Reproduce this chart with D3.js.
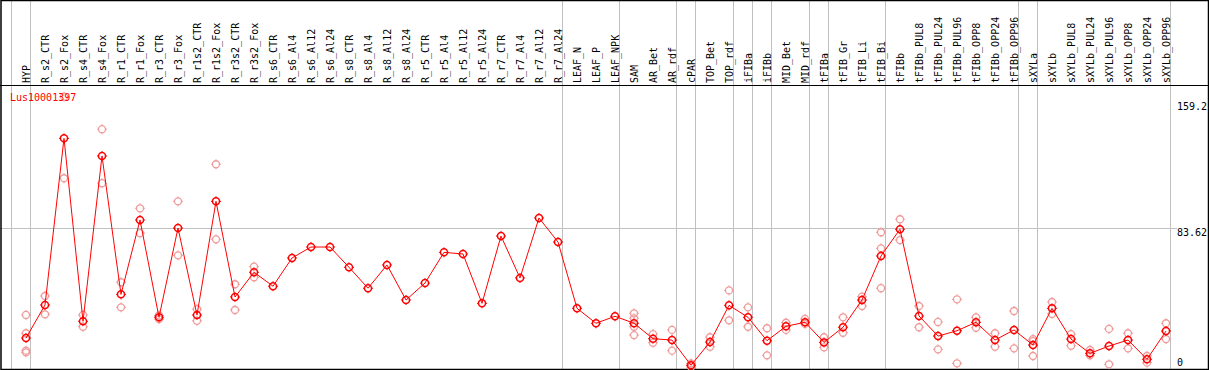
<!DOCTYPE html>
<html>
<head>
<meta charset="utf-8">
<script src="https://cdn.jsdelivr.net/npm/d3@7"></script>
<style>
  body { margin: 0; background: #fff; }
  svg { display: block; }
  text { font-family: "DejaVu Sans Mono", monospace; font-size: 10px; }
</style>
</head>
<body>
<div id="chart"></div>
<script>

var geneName = "Lus10001397";

var samples = ["HYP","R_s2_CTR","R_s2_Fox","R_s4_CTR","R_s4_Fox","R_r1_CTR","R_r1_Fox","R_r3_CTR","R_r3_Fox",
  "R_r1s2_CTR","R_r1s2_Fox","R_r3s2_CTR","R_r3s2_Fox","R_s6_CTR","R_s6_Al4","R_s6_Al12","R_s6_Al24",
  "R_s8_CTR","R_s8_Al4","R_s8_Al12","R_s8_Al24","R_r5_CTR","R_r5_Al4","R_r5_Al12","R_r5_Al24",
  "R_r7_CTR","R_r7_Al4","R_r7_Al12","R_r7_Al24","LEAF_N","LEAF_P","LEAF_NPK","SAM","AR_Bet","AR_rdf",
  "cPAR","TOP_Bet","TOP_rdf","iFIBa","iFIBb","MID_Bet","MID_rdf","tFIBa","tFIB_Gr","tFIB_Li","tFIB_Bi",
  "tFIBb","tFIBb_PUL8","tFIBb_PUL24","tFIBb_PUL96","tFIBb_OPP8","tFIBb_OPP24","tFIBb_OPP96",
  "sXYLa","sXYLb","sXYLb_PUL8","sXYLb_PUL24","sXYLb_PUL96","sXYLb_OPP8","sXYLb_OPP24","sXYLb_OPP96"];

// mean expression per sample
var means = [17.6,37.5,137.8,27.7,127.2,43.9,88.7,30.1,83.8,
  31.5,99.9,42.3,57.2,48.8,65.8,72.4,72.4,
  60.2,47.6,61.6,40.5,50.7,69.2,68.2,38.5,
  79.0,53.8,89.9,75.4,35.5,26.5,30.7,26.5,17.2,16.4,
  1.2,15.2,37.3,30.1,16.0,24.7,27.1,15.0,24.1,40.5,67.0,
  83.1,30.9,18.8,22.0,27.1,16.4,22.5,
  13.4,35.5,17.0,8.4,12.8,16.4,4.8,21.8];

// single replicates
var replicates = [[31.5,20.5,10.0,9.0],[42.9,31.9],[162.9,113.8],[31.5,24.4],[143.3,110.8],[51.2,36.1],[95.7,80.7],[31.2,29.0],[99.9,67.4],
  [35.0,28.0],[122.2,77.0],[50.0,34.5],[60.6,54.2],[],[],[],[],
  [],[],[],[],[],[],[],[],
  [],[],[],[],[],[],[],[32.5,29.5,24.4,19.4],[20.0,14.8],[22.5,10.0],
  [2.4,0.2],[18.1,12.4],[46.3,28.3],[36.1,24.4],[23.5,7.2],[26.8,22.5],[29.1,26.1],[18.1,12.0],[30.1,20.8],[42.5,36.9],[81.3,71.6,47.6],
  [89.1,76.6],[36.9,24.1],[27.3,10.8],[40.9,2.4],[30.1,23.8],[20.5,12.4],[33.9,11.4],
  [16.9,15.8,6.8],[39.3,32.1],[20.0,13.0],[10.4,7.2],[23.1,1.8],[20.5,11.4],[6.8,2.8],[26.5,17.0]];

var groupStarts = ["HYP","R_s2_CTR","LEAF_N","SAM","cPAR","TOP_Bet","iFIBa","iFIBb","MID_Bet","tFIBa","tFIB_Gr","tFIBb","sXYLa","sXYLb"];

var yTickValues = [159.2, 83.62, 0];
var yTickLabels = ["159.2", "83.62", "0"];

var width = 1209;
var height = 370;
var headerBottom = 85.5;

var svg = d3.select("#chart")
            .append("svg")
            .attr("width", width)
            .attr("height", height);

svg.append("rect")
   .attr("width", width)
   .attr("height", height)
   .attr("fill", "#fff");

var xScale = d3.scaleBand()
      .domain(samples)
      .range([11, 11 + 19 * samples.length])
      .paddingInner(0)
      .paddingOuter(0);

var yScale = d3.scaleLinear()
      .domain([0, 159.2])
      .range([367.3, 102.8]);

function px(name){
  return xScale(name) + 15;
}

// vertical group separators
var sepX = groupStarts.map(function(g){ return xScale(g); });
sepX.push(xScale.range()[1]);

svg.selectAll(".sep")
   .data(sepX)
   .enter()
   .append("line")
   .attr("class", "sep")
   .attr("x1", function(d){ return Math.round(d) + 0.5; })
   .attr("x2", function(d){ return Math.round(d) + 0.5; })
   .attr("y1", 0)
   .attr("y2", height)
   .attr("stroke", "#c0c0c0")
   .attr("stroke-width", 1);

// mid tick grid line
svg.append("line")
   .attr("x1", 0)
   .attr("x2", 1177)
   .attr("y1", Math.round(yScale(83.62)) + 0.5)
   .attr("y2", Math.round(yScale(83.62)) + 0.5)
   .attr("stroke", "#c0c0c0")
   .attr("stroke-width", 1);

// header / frame
svg.append("line")
   .attr("x1", 0)
   .attr("x2", width)
   .attr("y1", headerBottom)
   .attr("y2", headerBottom)
   .attr("stroke", "#000")
   .attr("stroke-width", 1);

svg.append("rect")
   .attr("x", 1)
   .attr("y", 0.5)
   .attr("width", width - 1.5)
   .attr("height", height - 1)
   .attr("fill", "none")
   .attr("stroke", "#000")
   .attr("stroke-width", 1.5);

// sample labels
svg.selectAll(".sampleLabel")
   .data(samples)
   .enter()
   .append("text")
   .attr("class", "sampleLabel")
   .attr("transform", function(d){
     return "translate(" + (px(d) + 3.5) + ",83) rotate(-90)";
   })
   .attr("text-anchor", "start")
   .attr("fill", "#000")
   .text(function(d){ return d; });

// y labels on the right
svg.selectAll(".yLabel")
   .data(yTickValues)
   .enter()
   .append("text")
   .attr("class", "yLabel")
   .attr("x", 1177)
   .attr("y", function(d){
     return Math.min(yScale(d) + 7.2, 365.7);
   })
   .attr("fill", "#000")
   .text(function(d,i){ return yTickLabels[i]; });

// replicate points
var repPoints = [];
replicates.forEach(function(reps, i){
  reps.forEach(function(v){
    repPoints.push({name: samples[i], value: v});
  });
});

function ticks(g, color){
  g.each(function(d){
    var sel = d3.select(this);
    [[0,-1],[0,1],[-1,0],[1,0]].forEach(function(o){
      sel.append("line")
         .attr("x1", o[0] * 3.5)
         .attr("y1", o[1] * 3.5)
         .attr("x2", o[0] * 5)
         .attr("y2", o[1] * 5)
         .attr("stroke", color)
         .attr("stroke-width", 1);
    });
  });
}

var repG = svg.selectAll(".rep")
   .data(repPoints)
   .enter()
   .append("g")
   .attr("class", "rep")
   .attr("transform", function(d){
     return "translate(" + px(d.name) + "," + yScale(d.value) + ")";
   });

repG.append("circle")
   .attr("r", 3.5)
   .attr("fill", "none")
   .attr("stroke", "#f09a9a")
   .attr("stroke-width", 1.3);
ticks(repG, "#f09a9a");

// mean line
var line = d3.line()
   .x(function(d,i){ return px(samples[i]); })
   .y(function(d){ return yScale(d); });

svg.append("path")
   .datum(means)
   .attr("d", line)
   .attr("fill", "none")
   .attr("stroke", "#ff0000")
   .attr("stroke-width", 1);

var meanG = svg.selectAll(".mean")
   .data(means)
   .enter()
   .append("g")
   .attr("class", "mean")
   .attr("transform", function(d,i){
     return "translate(" + px(samples[i]) + "," + yScale(d) + ")";
   });

meanG.append("circle")
   .attr("r", 3.5)
   .attr("fill", "none")
   .attr("stroke", "#ff0000")
   .attr("stroke-width", 1.5);
ticks(meanG, "#ff0000");

svg.append("text")
   .attr("x", 10)
   .attr("y", 100.7)
   .attr("fill", "#ff0000")
   .text(geneName);

</script>
</body>
</html>
